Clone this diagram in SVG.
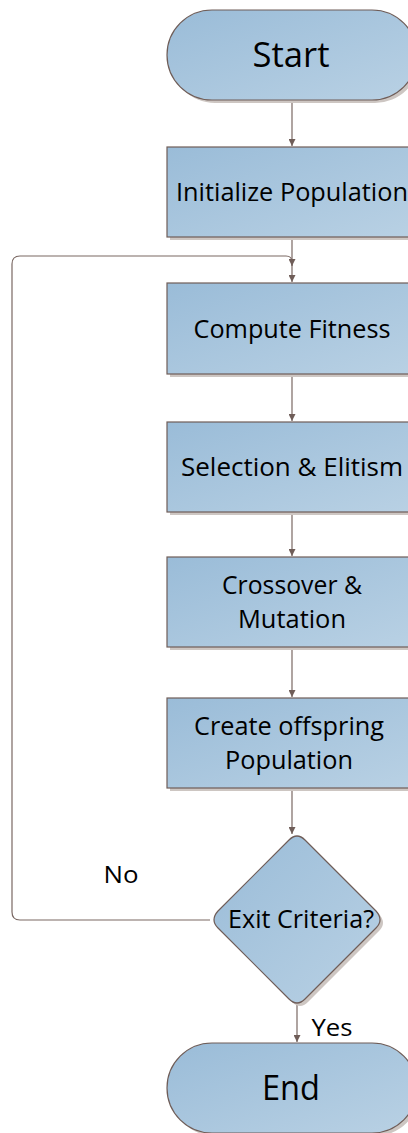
<svg xmlns="http://www.w3.org/2000/svg" width="408" height="1133" viewBox="0 0 408 1133">
<defs>
<linearGradient id="g" x1="0" y1="0" x2="1" y2="1">
<stop offset="0" stop-color="#9abcd8"/>
<stop offset="1" stop-color="#b9d1e4"/>
</linearGradient>
<marker id="ah" viewBox="0 0 10 10" refX="10" refY="5" markerWidth="7" markerHeight="7" markerUnits="userSpaceOnUse" orient="auto">
<path d="M0,0 L10,5 L0,10 z" fill="#6f5d58"/>
</marker>
<style>
.s{fill:url(#g);stroke:#6f5d58;stroke-width:1.2}
.sh{fill:#cdc6c2}
.c{fill:none;stroke:#7a6863;stroke-width:1.2}
text{font-family:"Open Sans","Liberation Sans",sans-serif;fill:#000;text-anchor:middle}
.t{font-size:25px}
.b{font-size:34px}
.l{font-size:24px}
</style>
</defs>
<g id="connectors">
<path class="c" d="M292,100 V146" marker-end="url(#ah)"/>
<path class="c" d="M292,237 V282" marker-end="url(#ah)"/>
<path class="c" d="M210,920 H20 Q12,920 12,912 V264 Q12,256 20,256 H286 Q292,256 292,262 V266" marker-end="url(#ah)"/>
<path class="c" d="M292,374 V421" marker-end="url(#ah)"/>
<path class="c" d="M292,512 V556" marker-end="url(#ah)"/>
<path class="c" d="M292,647 V697" marker-end="url(#ah)"/>
<path class="c" d="M292,788 V834" marker-end="url(#ah)"/>
<path class="c" d="M297,1005 V1042" marker-end="url(#ah)"/>
</g>
<g id="start">
<rect class="sh" x="170" y="13" width="250" height="90" rx="45"/>
<rect class="s" x="167" y="10" width="250" height="90" rx="45"/>
<text class="b" x="291" y="67" textLength="77" lengthAdjust="spacingAndGlyphs">Start</text>
</g>
<g id="init">
<rect class="sh" x="170" y="150" width="250" height="90"/>
<rect class="s" x="167" y="147" width="250" height="90"/>
<text class="t" x="292" y="201" textLength="232" lengthAdjust="spacingAndGlyphs">Initialize Population</text>
</g>
<g id="fitness">
<rect class="sh" x="170" y="286" width="250" height="91"/>
<rect class="s" x="167" y="283" width="250" height="91"/>
<text class="t" x="292" y="338" textLength="197" lengthAdjust="spacingAndGlyphs">Compute Fitness</text>
</g>
<g id="selection">
<rect class="sh" x="170" y="425" width="250" height="90"/>
<rect class="s" x="167" y="422" width="250" height="90"/>
<text class="t" x="292" y="476" textLength="222" lengthAdjust="spacingAndGlyphs">Selection &amp; Elitism</text>
</g>
<g id="crossover">
<rect class="sh" x="170" y="560" width="250" height="90"/>
<rect class="s" x="167" y="557" width="250" height="90"/>
<text class="t" x="292" y="594" textLength="140" lengthAdjust="spacingAndGlyphs">Crossover &amp;</text>
<text class="t" x="292" y="628" textLength="108" lengthAdjust="spacingAndGlyphs">Mutation</text>
</g>
<g id="offspring">
<rect class="sh" x="170" y="701" width="250" height="90"/>
<rect class="s" x="167" y="698" width="250" height="90"/>
<text class="t" x="289" y="735" textLength="190" lengthAdjust="spacingAndGlyphs">Create offspring</text>
<text class="t" x="289" y="769" textLength="128" lengthAdjust="spacingAndGlyphs">Population</text>
</g>
<g id="exit">
<path class="sh" d="M292,843 Q300,835 308,843 L379,914 Q387,923 379,931 L308,1002 Q300,1010 292,1002 L221,931 Q213,923 221,914 Z"/>
<path class="s" d="M289,840 Q297,832 305,840 L376,911 Q384,920 376,928 L305,999 Q297,1007 289,999 L218,928 Q210,920 218,911 Z"/>
<text class="t" x="301" y="928" textLength="146" lengthAdjust="spacingAndGlyphs">Exit Criteria?</text>
</g>
<g id="end">
<rect class="sh" x="170" y="1046" width="250" height="90" rx="45"/>
<rect class="s" x="167" y="1043" width="250" height="90" rx="45"/>
<text class="b" x="291" y="1100" textLength="58" lengthAdjust="spacingAndGlyphs">End</text>
</g>
<g id="labels">
<text class="l" x="121" y="883" textLength="35" lengthAdjust="spacingAndGlyphs">No</text>
<text class="l" x="332" y="1036" textLength="41" lengthAdjust="spacingAndGlyphs">Yes</text>
</g>
</svg>
